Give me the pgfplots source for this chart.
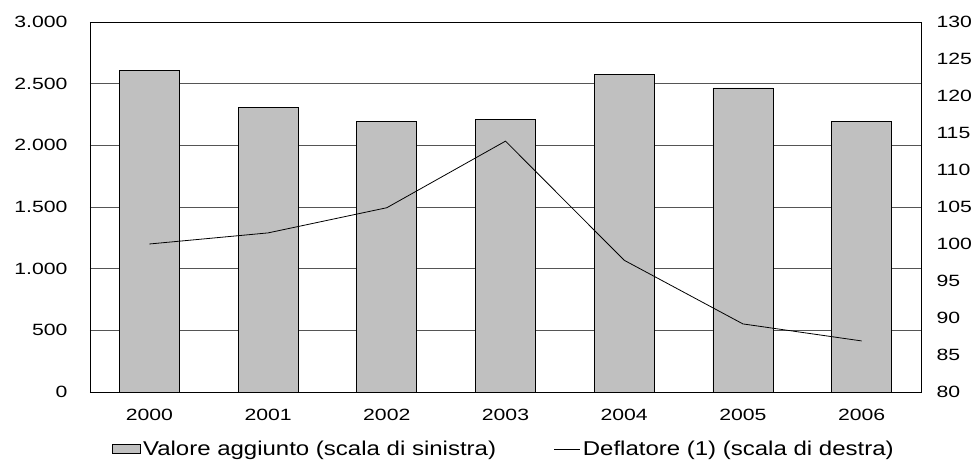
\documentclass[border=0pt]{standalone}
\usepackage{fontspec}
\setmainfont{Liberation Sans}[FakeStretch=1.3]
\newfontfamily\legendfamily{Liberation Sans}[FakeStretch=1.2]
\usepackage{pgfplots}
\usepackage{pgfplotstable}
\pgfplotsset{compat=1.18}

\definecolor{barfill}{HTML}{C0C0C0}
\definecolor{gridcol}{HTML}{555555}

% year index, value added (left scale), deflator (right scale)
\pgfplotstableread{
x val defl
0 2610 100.0
1 2305 101.5
2 2197 104.9
3 2212 113.9
4 2578 97.8
5 2465 89.2
6 2190 86.9
}\datatable

\newcommand{\tickfont}{\fontsize{16.3}{18}\selectfont}
\newcommand{\legfont}{\legendfamily\fontsize{20}{24}\selectfont}

\begin{document}
\begin{tikzpicture}
\pgfplotsset{
  common/.style={
    scale only axis, width=831pt, height=370pt,
    xmin=-0.5, xmax=6.5,
    major tick length=0pt,
    /pgf/number format/assume math mode=true,
    /pgf/number format/1000 sep={.},
    axis line style={line width=0.9pt, black},
  }
}
\begin{axis}[
  common,
  ymin=0, ymax=3000,
  ytick={0,500,...,3000},
  xtick={0,...,6},
  xticklabels={2000,2001,2002,2003,2004,2005,2006},
  ymajorgrids,
  grid style={line width=0.8pt, gridcol},
  yticklabel style={font=\tickfont, xshift=-19pt},
  xticklabel style={font=\tickfont, yshift=-14pt},
]
\addplot[ybar, bar width=0.505, fill=barfill, draw=black, line width=0.8pt]
  table[x=x, y=val] {\datatable};
\end{axis}
\begin{axis}[
  common,
  axis x line=none,
  axis y line*=right,
  ymin=80, ymax=130,
  ytick={80,85,...,130},
  yticklabel style={font=\tickfont, xshift=12pt},
  legend columns=2,
  legend style={
    at={(0.0265,-0.154)}, anchor=west,
    draw=none, fill=none, inner sep=0pt,
    font=\legfont,
    nodes={inner xsep=2pt},
    /tikz/every even column/.append style={column sep=56pt},
  },
]
\addlegendimage{legend image code/.code={
  \draw[fill=barfill, draw=black, line width=0.8pt] (0pt,-4.5pt) rectangle (28pt,4.5pt);}}
\addlegendentry{Valore aggiunto (scala di sinistra)}
\addplot[black, line width=0.8pt, mark=none,
  legend image code/.code={\draw[black, line width=0.8pt] (0pt,0pt) -- (26pt,0pt);}]
  table[x=x, y=defl] {\datatable};
\addlegendentry{Deflatore (1) (scala di destra)}
\end{axis}
\pgfresetboundingbox
\path[use as bounding box] (-90pt,-73pt) rectangle (885pt,392pt);
\end{tikzpicture}
\end{document}
